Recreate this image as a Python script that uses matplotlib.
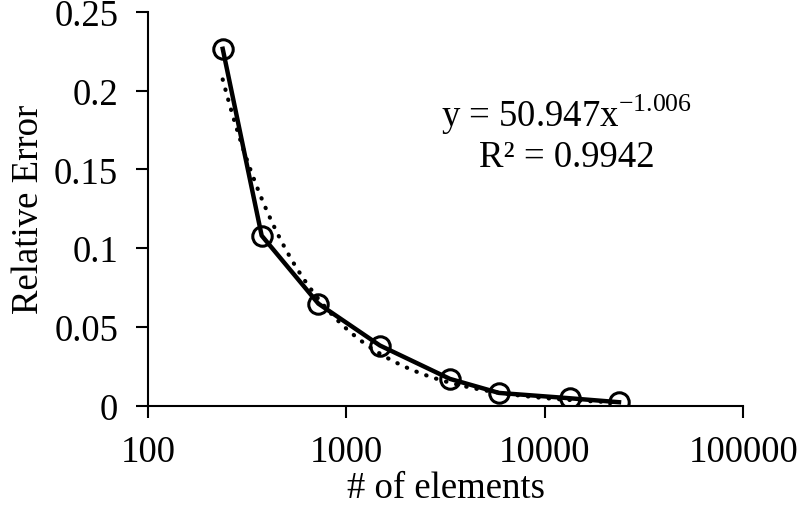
import numpy as np
import matplotlib
matplotlib.use("Agg")
import matplotlib.pyplot as plt

# data
elements = [238, 374, 722, 1476, 3327, 5875, 13400, 23660]
rel_error = [0.2266, 0.108, 0.0648, 0.0382, 0.017, 0.0081, 0.0047, 0.0022]
fit_a = 50.947
fit_b = -1.006
x_ticks = [100, 1000, 10000, 100000]
x_ticklabels = ["100", "1000", "10000", "100000"]
y_ticks = [0, 0.05, 0.1, 0.15, 0.2, 0.25]
y_ticklabels = ["0", "0.05", "0.1", "0.15", "0.2", "0.25"]

plt.rcParams["font.family"] = ["Liberation Serif", "DejaVu Serif"]
plt.rcParams["mathtext.fontset"] = "custom"
plt.rcParams["mathtext.rm"] = "Liberation Serif"

fs = 26.5

fig = plt.figure(figsize=(8, 5.1), dpi=100)
ax = fig.add_axes([0.185, 0.2026, 0.744, 0.772])

# power-law trendline (dotted)
xf = np.logspace(np.log10(elements[0]), np.log10(elements[-1]), 200)
ax.plot(xf, fit_a * xf ** fit_b, color="black", lw=3.0,
        linestyle=(0, (0.1, 2.4)), dash_capstyle="round", zorder=2)

ax.plot(elements, rel_error, color="black", lw=3.2, marker="o",
        markersize=14, markerfacecolor="none", markeredgewidth=2.2, zorder=3)

ax.set_xscale("log")
ax.set_xlim(100, 100000)
ax.set_ylim(0, 0.25)
ax.set_xticks(x_ticks)
ax.set_xticklabels(x_ticklabels)
ax.xaxis.set_minor_locator(matplotlib.ticker.NullLocator())
ax.set_yticks(y_ticks)
ax.set_yticklabels(y_ticklabels)

for s in ["top", "right"]:
    ax.spines[s].set_visible(False)
for s in ["left", "bottom"]:
    ax.spines[s].set_linewidth(1.5)

ax.tick_params(axis="both", labelsize=fs, width=1.5, length=8.5, direction="out")
ax.tick_params(axis="y", pad=13)
ax.tick_params(axis="x", pad=12)

ax.set_xlabel("# of elements", fontsize=fs, labelpad=1)
ax.set_ylabel("Relative Error", fontsize=fs, labelpad=6)

ax.text(0.703, 0.741, r"y = 50.947x$^{\mathregular{-1.006}}$", transform=ax.transAxes,
        fontsize=fs, ha="center", va="center")
ax.text(0.703, 0.632, "R² = 0.9942", transform=ax.transAxes,
        fontsize=fs, ha="center", va="center")

fig.savefig("out.png", dpi=100)
